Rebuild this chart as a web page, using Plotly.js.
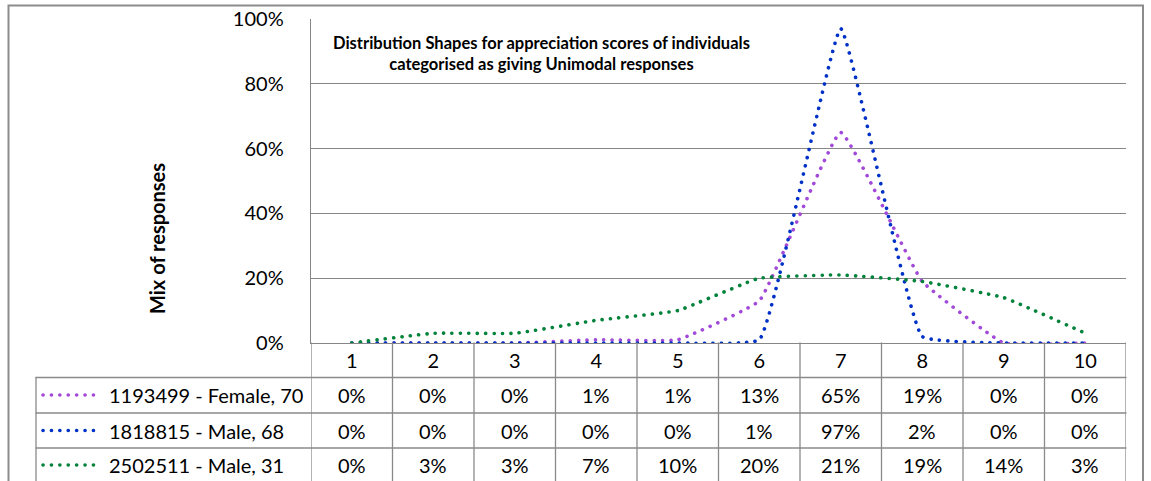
<!DOCTYPE html>
<html>
<head>
<meta charset="utf-8">
<script src="https://cdn.plot.ly/plotly-3.0.1.min.js"></script>
<style>
  html, body { margin: 0; padding: 0; background: #ffffff; }
  #chart { width: 1151px; height: 481px; }
  .scatterlayer .js-line { stroke-linecap: round; }
  .shapelayer path { stroke-linecap: round; }
</style>
</head>
<body>
<div id="chart"></div>
<script>
// ---- Data ----
const categories = [1, 2, 3, 4, 5, 6, 7, 8, 9, 10];
const seriesNames = ['1193499 - Female, 70', '1818815 - Male, 68', '2502511 - Male, 31'];
const female70 = [0, 0, 0, 0.01, 0.01, 0.13, 0.65, 0.19, 0, 0];
const male68   = [0, 0, 0, 0, 0, 0.01, 0.97, 0.02, 0, 0];
const male31   = [0, 0.03, 0.03, 0.07, 0.10, 0.20, 0.21, 0.19, 0.14, 0.03];
const seriesValues = [female70, male68, male31];
const seriesColors = ['#A24AD8', '#0031C6', '#00823A'];
const yTickVals = [0, 0.2, 0.4, 0.6, 0.8, 1.0];
const yTickText = ['0%', '20%', '40%', '60%', '80%', '100%'];
const chartTitle = 'Distribution Shapes for appreciation scores of individuals<br>categorised as giving Unimodal responses';
const yTitle = 'Mix of responses';

// ---- Layout geometry (pixels) ----
const W = 1151, H = 481;
const PL = 311, PR = 1126, PT = 19, PB = 343;
const pw = PR - PL, ph = PB - PT;
const px = X => (X - PL) / pw;       // pixel x -> paper x
const py = Y => (PB - Y) / ph;       // pixel y -> paper y

const FONT = 'Lato, "Noto Sans", sans-serif';
const gridColor = '#868686';
const tableColor = '#8a8a8a';
const DOT = '0.1px,8.3px';

// table rows (pixel y)
const rowEdges = [343, 377.5, 413, 448, 495];
const rowCenters = [395, 430.5, 465];

const traces = seriesValues.map((vals, i) => ({
  type: 'scatter',
  mode: 'lines',
  x: categories,
  y: vals,
  name: seriesNames[i],
  line: { color: seriesColors[i], width: 3.6, dash: DOT, shape: 'spline', smoothing: 0.3 },
  hoverinfo: 'skip',
  showlegend: false
}));

const shapes = [];
const annotations = [];

// outer chart border
shapes.push({ type: 'rect', xref: 'paper', yref: 'paper',
  x0: px(8.5), x1: px(1143), y0: py(5.5), y1: py(500),
  line: { color: '#8c8c8c', width: 2 }, fillcolor: 'rgba(0,0,0,0)', layer: 'below' });

// table horizontal lines
for (let r = 1; r < rowEdges.length - 1; r++) {
  shapes.push({ type: 'line', xref: 'paper', yref: 'paper',
    x0: px(36), x1: 1, y0: py(rowEdges[r]), y1: py(rowEdges[r]),
    line: { color: tableColor, width: 1.3 } });
}
// legend column left border
shapes.push({ type: 'line', xref: 'paper', yref: 'paper',
  x0: px(36), x1: px(36), y0: py(rowEdges[1]), y1: py(495),
  line: { color: tableColor, width: 1.3 } });
// category column dividers (drawn on x scale)
for (let k = 0; k <= categories.length; k++) {
  const xv = categories[0] - 0.5 + k;
  shapes.push({ type: 'line', xref: 'x', yref: 'paper',
    x0: xv, x1: xv, y0: py(PB), y1: py(495),
    line: { color: tableColor, width: 1.3 } });
}

// legend samples + row labels + cell values
seriesNames.forEach((name, i) => {
  const yc = py(rowCenters[i]);
  shapes.push({ type: 'line', xref: 'paper', yref: 'paper',
    x0: px(43), x1: px(98), y0: yc, y1: yc,
    line: { color: seriesColors[i], width: 3.6, dash: DOT } });
  annotations.push({ xref: 'paper', yref: 'paper', x: px(107), y: yc,
    xanchor: 'left', yanchor: 'middle', showarrow: false, text: name,
    font: { family: FONT, size: 20, color: '#000' } });
  seriesValues[i].forEach((v, j) => {
    annotations.push({ xref: 'x', yref: 'paper', x: categories[j], y: yc,
      xanchor: 'center', yanchor: 'middle', showarrow: false,
      text: Math.round(v * 100) + '%',
      font: { family: FONT, size: 20, color: '#000' } });
  });
});

// chart title (inside plot area)
annotations.push({ xref: 'paper', yref: 'paper', x: px(541), y: py(53),
  xanchor: 'center', yanchor: 'middle', showarrow: false, align: 'center',
  text: '<b>' + chartTitle + '</b>',
  font: { family: FONT, size: 16.5, color: '#000' } });

// y-axis title
annotations.push({ xref: 'paper', yref: 'paper', x: px(157), y: py(239),
  xanchor: 'center', yanchor: 'middle', showarrow: false, textangle: -90,
  text: '<b>' + yTitle + '</b>',
  font: { family: FONT, size: 20, color: '#000' } });

const layout = {
  width: W, height: H,
  margin: { l: PL, r: W - PR, t: PT, b: H - PB, pad: 0 },
  paper_bgcolor: '#ffffff',
  plot_bgcolor: '#ffffff',
  showlegend: false,
  xaxis: {
    range: [categories[0] - 0.5, categories[categories.length - 1] + 0.5],
    tickvals: categories,
    ticktext: categories.map(String),
    ticks: '',
    showgrid: false,
    zeroline: false,
    showline: true, linecolor: gridColor, linewidth: 1.3,
    ticklabelstandoff: 0,
    tickfont: { family: FONT, size: 20, color: '#000' },
    fixedrange: true
  },
  yaxis: {
    range: [0, 1],
    tickvals: yTickVals,
    ticktext: yTickText,
    ticks: '',
    showgrid: true, gridcolor: gridColor, gridwidth: 1.3,
    zeroline: false,
    showline: true, linecolor: gridColor, linewidth: 1.3,
    ticklabelstandoff: 22,
    tickfont: { family: FONT, size: 20, color: '#000' },
    automargin: false,
    fixedrange: true
  },
  shapes: shapes,
  annotations: annotations
};

Plotly.newPlot('chart', traces, layout, { staticPlot: true, displayModeBar: false });
</script>
</body>
</html>
